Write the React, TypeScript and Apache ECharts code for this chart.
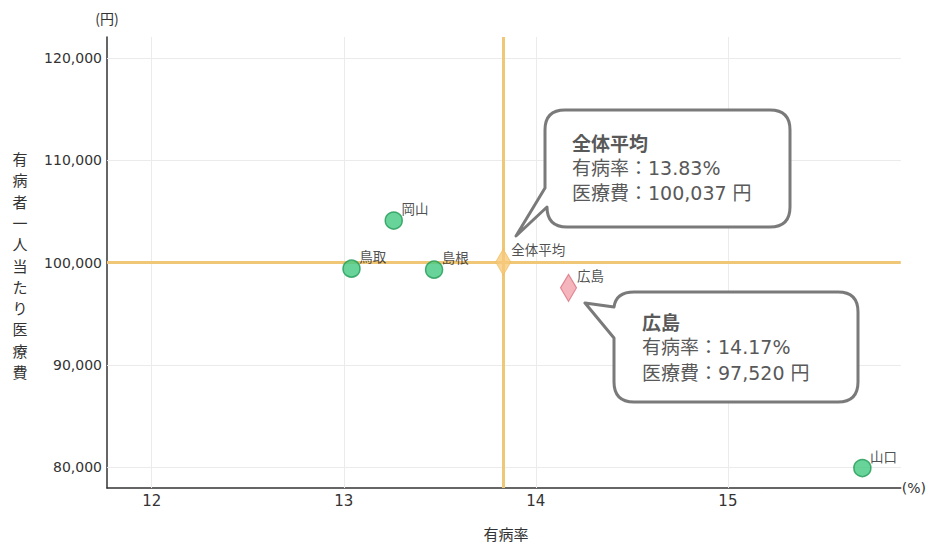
import React, { useEffect, useRef } from "react";
import * as echarts from "echarts";

// ---- data ----
const prefNames = ["鳥取", "岡山", "島根", "山口"];
const prefRate = [13.04, 13.26, 13.47, 15.7];
const prefCost = [99400, 104100, 99300, 79900];

const focusName = "広島";
const focusRate = 14.17;
const focusCost = 97520;

const avgName = "全体平均";
const avgRate = 13.83;
const avgCost = 100037;

const xTicks = [12, 13, 14, 15];
const yTicks = [80000, 90000, 100000, 110000, 120000];

const xMin = 11.767;
const xMax = 15.9;
const yMin = 77950;
const yMax = 122050;

const yTitle = "有病者一人当たり医療費";
const xTitle = "有病率";

const fmt = (v: number) => v.toLocaleString("en-US");

const CALLOUT1 =
  "M 565 110 L 770 110 Q 790 110 790 130 L 790 207 Q 790 227 770 227 L 567 227 Q 547 227 547 207 L 516 236 L 545 188 L 545 130 Q 545 110 565 110 Z";
const CALLOUT2 =
  "M 634 292 L 838 292 Q 858 292 858 312 L 858 382 Q 858 402 838 402 L 634 402 Q 614 402 614 382 L 614 338 L 585 303 L 614 307 Q 616 292 634 292 Z";

let registered = false;
function registerShapes() {
  if (registered) return;
  echarts.graphic.registerShape("callout1", echarts.graphic.extendPath(CALLOUT1, {}));
  echarts.graphic.registerShape("callout2", echarts.graphic.extendPath(CALLOUT2, {}));
  registered = true;
}

const CJK = '"Noto Sans CJK JP", "Noto Sans", sans-serif';
const LAT = '"DejaVu Sans", sans-serif';
const MIX = '"DejaVu Sans", "Noto Sans CJK JP", sans-serif';

export default function App() {
  const ref = useRef<HTMLDivElement>(null);
  useEffect(() => {
    if (!ref.current) return;
    registerShapes();
    const chart = echarts.init(ref.current, undefined, { renderer: "svg" });
    const lineColor = "#f0c777";
    const textGray = "#595959";
    const boxText = (text: string, x: number, y: number, bold = false) => ({
      type: "text",
      z: 110,
      style: {
        text,
        x,
        y,
        fill: textGray,
        font: bold ? `bold 19px ${CJK}` : `19px ${MIX}`,
        textAlign: "left",
        textVerticalAlign: "middle",
      },
    });
    const labelStyle = (pos: number[]) => ({
      show: true,
      formatter: (p: any) => p.name,
      position: pos,
      align: "left",
      verticalAlign: "middle",
      color: "#222",
      fontSize: 13.5,
      fontFamily: CJK,
    });
    const option: any = {
      animation: false,
      backgroundColor: "#ffffff",
      grid: { left: 107, right: 24, top: 37, bottom: 56, containLabel: false },
      xAxis: {
        type: "value",
        min: xMin,
        max: xMax,
        name: "(%)",
        nameLocation: "end",
        nameGap: 1,
        nameTextStyle: { color: "#333", fontSize: 14, fontFamily: LAT, verticalAlign: "middle" },
        axisLine: { show: true, onZero: false, lineStyle: { color: "#333", width: 1.5 } },
        axisTick: { show: false },
        splitLine: { show: false },
        axisLabel: {
          customValues: xTicks,
          color: "#333",
          fontSize: 15,
          fontFamily: LAT,
          margin: 5,
          formatter: (v: number) => String(v),
        },
      },
      yAxis: {
        type: "value",
        min: yMin,
        max: yMax,
        name: "(円)",
        nameLocation: "end",
        nameGap: 12,
        nameTextStyle: { color: "#333", fontSize: 14, fontFamily: CJK, align: "center" },
        axisLine: { show: true, onZero: false, lineStyle: { color: "#333", width: 1.5 } },
        axisTick: { show: false },
        splitLine: { show: false },
        axisLabel: {
          customValues: yTicks,
          color: "#333",
          fontSize: 14,
          fontFamily: LAT,
          margin: 5,
          formatter: (v: number) => fmt(v),
        },
      },
      series: [
        {
          type: "scatter",
          data: [],
          silent: true,
          z: 1,
          markLine: {
            silent: true,
            symbol: "none",
            label: { show: false },
            lineStyle: { color: "#ebebeb", width: 1, type: "solid" },
            data: [
              ...xTicks.map((v) => ({ xAxis: v })),
              ...yTicks.map((v) => ({ yAxis: v })),
            ],
          },
        },
        {
          type: "scatter",
          data: [],
          silent: true,
          z: 2,
          markLine: {
            silent: true,
            symbol: "none",
            label: { show: false },
            lineStyle: { color: lineColor, width: 3, type: "solid", opacity: 1 },
            data: [{ xAxis: avgRate }, { yAxis: avgCost }],
          },
        },
        {
          type: "scatter",
          z: 5,
          symbol: "circle",
          symbolSize: 17,
          itemStyle: { color: "#43c97f", borderColor: "#1f9a55", borderWidth: 1.5 },
          label: labelStyle([17, -3]),
          data: prefNames.map((n, i) => ({ name: n, value: [prefRate[i], prefCost[i]] })),
        },
        {
          type: "scatter",
          z: 6,
          symbol: "diamond",
          symbolSize: [16, 27],
          itemStyle: { color: "#f3a3ad", borderColor: "#d9737f", borderWidth: 1.2 },
          label: labelStyle([17, 1]),
          data: [{ name: focusName, value: [focusRate, focusCost] }],
        },
        {
          type: "scatter",
          z: 6,
          symbol: "diamond",
          symbolSize: [15, 26],
          itemStyle: { color: "#f7c97a", borderColor: "#f0be60", borderWidth: 1 },
          label: labelStyle([16, 1]),
          data: [{ name: avgName, value: [avgRate, avgCost] }],
        },
      ],
      graphic: [
        {
          type: "text",
          style: {
            text: yTitle.split("").join("\n"),
            x: 20,
            y: 265,
            fill: "#333",
            font: `15px ${CJK}`,
            lineHeight: 21.3,
            textAlign: "center",
            textVerticalAlign: "middle",
          },
        },
        {
          type: "text",
          style: {
            text: xTitle,
            x: 506,
            y: 533,
            fill: "#333",
            font: `15px ${CJK}`,
            textAlign: "center",
            textVerticalAlign: "middle",
          },
        },
        {
          type: "callout1",
          x: 0,
          y: 0,
          z: 100,
          style: { fill: "#ffffff", stroke: "#7a7a7a", lineWidth: 3, lineJoin: "round" },
        },
        {
          type: "callout2",
          x: 0,
          y: 0,
          z: 100,
          style: { fill: "#ffffff", stroke: "#7a7a7a", lineWidth: 3, lineJoin: "round" },
        },
        boxText(avgName, 572, 142, true),
        boxText(`有病率：${avgRate.toFixed(2)}%`, 572, 168),
        boxText(`医療費：${fmt(avgCost)} 円`, 572, 193),
        boxText(focusName, 642, 321, true),
        boxText(`有病率：${focusRate.toFixed(2)}%`, 642, 347),
        boxText(`医療費：${fmt(focusCost)} 円`, 642, 373),
      ],
    };
    chart.setOption(option);
    return () => chart.dispose();
  }, []);
  return <div ref={ref} style={{ width: 929, height: 544, position: "absolute", left: 0, top: 0 }} />;
}
